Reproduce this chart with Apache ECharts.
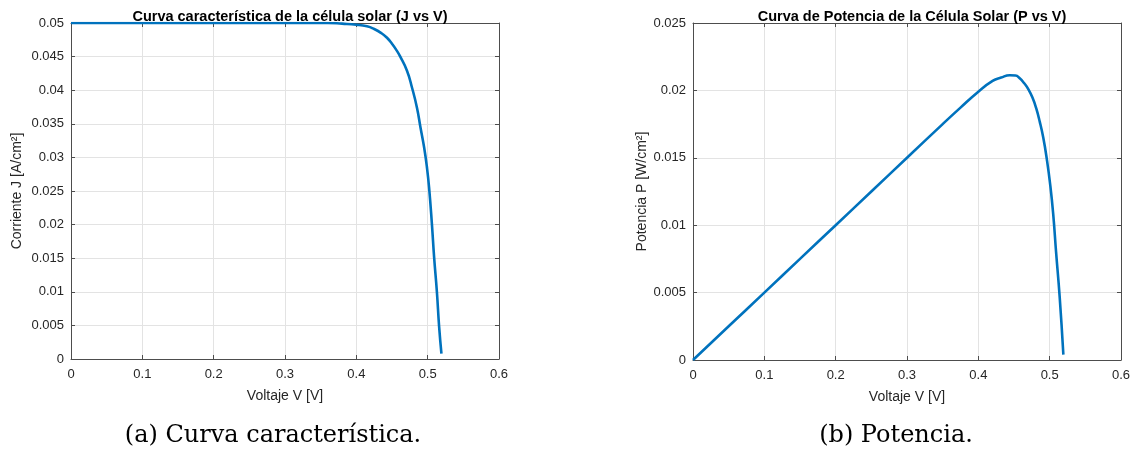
<!DOCTYPE html>
<html>
<head>
<meta charset="utf-8">
<script src="https://cdn.jsdelivr.net/npm/echarts@6/dist/echarts.min.js"></script>
<style>
  html, body { margin: 0; padding: 0; background: #fff; }
  #chart { width: 1134px; height: 456px; }
</style>
</head>
<body>
<div id="chart"></div>
<script>
// curva J-V
const voltageJ = [0, 0.05, 0.1, 0.15, 0.2, 0.25, 0.3, 0.33, 0.36, 0.38, 0.40, 0.415, 0.425, 0.435, 0.443, 0.450, 0.456, 0.461, 0.471, 0.478, 0.485, 0.490, 0.495, 0.499, 0.502, 0.506, 0.509, 0.513, 0.516, 0.5193]
const currentJ = [0.05, 0.05, 0.05, 0.05, 0.05, 0.05, 0.05, 0.05, 0.05, 0.0499, 0.04975, 0.0495, 0.0491, 0.0485, 0.0478, 0.0469, 0.0460, 0.0451, 0.0429, 0.0404, 0.0374, 0.0344, 0.0315, 0.0285, 0.0255, 0.0200, 0.0152, 0.0099, 0.0049, 0.0008]

// curva P-V
const voltageP = [0, 0.05, 0.1, 0.15, 0.2, 0.25, 0.3, 0.35, 0.375, 0.40, 0.42, 0.432, 0.444, 0.452, 0.458, 0.464, 0.470, 0.476, 0.481, 0.486, 0.491, 0.496, 0.501, 0.505, 0.509, 0.514, 0.5192]
const powerP = [0, 0.0025, 0.005, 0.0075, 0.01, 0.0125, 0.015, 0.0175, 0.01872, 0.0199, 0.0207, 0.02095, 0.02112, 0.0211, 0.0209, 0.02055, 0.0201, 0.01945, 0.0187, 0.0177, 0.0165, 0.0149, 0.0129, 0.0108, 0.0080, 0.0047, 0.0004]

// ejes
const xTicks = { min: 0, max: 0.6, interval: 0.1 }
const yTicksJ = { min: 0, max: 0.05, interval: 0.005 }
const yTicksP = { min: 0, max: 0.025, interval: 0.005 }

const titles = ['Curva característica de la célula solar (J vs V)', 'Curva de Potencia de la Célula Solar (P vs V)']
const xNames = ['Voltaje V [V]', 'Voltaje V [V]']
const yNames = ['Corriente J [A/cm²]', 'Potencia P [W/cm²]']
const captions = ['(a) Curva característica.', '(b) Potencia.']

const lineColor = '#0072BD'
const axisColor = '#4d4d4d'
const textColor = '#262626'
const font = 'Liberation Sans, Arial, sans-serif'

const zip = (xs, ys) => xs.map((x, i) => [x, ys[i]])

const chart = echarts.init(document.getElementById('chart'))

const grids = [
  { left: 71, top: 23, width: 428, height: 336 },
  { left: 693, top: 23, width: 428, height: 337 }
]

function mainX (gi) {
  return {
    type: 'value', gridIndex: gi, ...xTicks,
    name: xNames[gi], nameLocation: 'middle', nameGap: 30,
    nameTextStyle: { color: textColor, fontSize: 14, fontFamily: font },
    axisLine: { lineStyle: { color: axisColor } },
    axisTick: { inside: true, length: 4, lineStyle: { color: axisColor } },
    axisLabel: { color: textColor, fontSize: 13, fontFamily: font, margin: 9 },
    splitLine: { show: true, lineStyle: { color: '#e3e3e3' } }
  }
}
function boxX (gi) {
  return {
    type: 'value', gridIndex: gi, position: 'top', ...xTicks,
    axisLine: { onZero: false, lineStyle: { color: axisColor } },
    axisTick: { inside: true, length: 4, lineStyle: { color: axisColor } },
    axisLabel: { show: false }, splitLine: { show: false }
  }
}
function mainY (gi, ticks) {
  return {
    type: 'value', gridIndex: gi, ...ticks,
    name: yNames[gi], nameLocation: 'middle', nameGap: gi === 0 ? 47 : 43,
    nameTextStyle: { color: textColor, fontSize: 14, fontFamily: font },
    axisLine: { show: true, lineStyle: { color: axisColor } },
    axisTick: { show: true, inside: true, length: 4, lineStyle: { color: axisColor } },
    axisLabel: { color: textColor, fontSize: 13, fontFamily: font, margin: 7 },
    splitLine: { show: true, lineStyle: { color: '#e3e3e3' } }
  }
}
function boxY (gi, ticks) {
  return {
    type: 'value', gridIndex: gi, position: 'right', ...ticks,
    axisLine: { show: true, onZero: false, lineStyle: { color: axisColor } },
    axisTick: { show: true, inside: true, length: 4, lineStyle: { color: axisColor } },
    axisLabel: { show: false }, splitLine: { show: false }
  }
}

const option = {
  animation: false,
  backgroundColor: '#fff',
  title: [
    { text: titles[0], left: 285, top: 4, textAlign: 'center',
      textStyle: { fontSize: 14.5, fontWeight: 'bold', color: '#000', fontFamily: font } },
    { text: titles[1], left: 907, top: 4, textAlign: 'center',
      textStyle: { fontSize: 14.5, fontWeight: 'bold', color: '#000', fontFamily: font } }
  ],
  grid: grids,
  xAxis: [mainX(0), boxX(0), mainX(1), boxX(1)],
  yAxis: [mainY(0, yTicksJ), boxY(0, yTicksJ), mainY(1, yTicksP), boxY(1, yTicksP)],
  series: [
    {
      type: 'line', xAxisIndex: 0, yAxisIndex: 0,
      data: zip(voltageJ, currentJ),
      showSymbol: false, smooth: 0.5,
      lineStyle: { color: lineColor, width: 2.6 }
    },
    {
      type: 'line', xAxisIndex: 2, yAxisIndex: 2,
      data: zip(voltageP, powerP),
      showSymbol: false, smooth: 0.5,
      lineStyle: { color: lineColor, width: 2.6 }
    }
  ],
  graphic: [
    { type: 'text', x: 273, y: 436,
      style: { text: captions[0], fill: '#000', font: '24px "DejaVu Serif", serif', align: 'center', verticalAlign: 'middle' } },
    { type: 'text', x: 896, y: 436,
      style: { text: captions[1], fill: '#000', font: '24px "DejaVu Serif", serif', align: 'center', verticalAlign: 'middle' } }
  ]
}

chart.setOption(option)
</script>
</body>
</html>
